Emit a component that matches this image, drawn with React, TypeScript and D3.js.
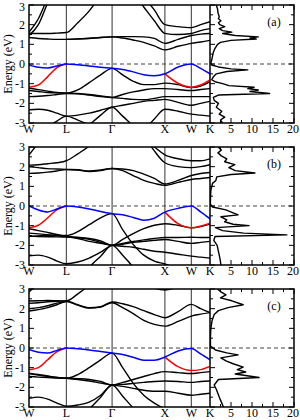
import React from 'react';
import * as d3 from 'd3';

const N = null;

// k-path sampling (2π/a units) and high-symmetry points
const kGrid = [0, 0.177, 0.354, 0.53, 0.707, 0.924, 1.14, 1.357, 1.573, 1.773, 1.973, 2.173, 2.373, 2.573, 2.823, 3.073, 3.25, 3.427];
const kPoints = [0, 0.707, 1.573, 2.573, 3.073, 3.427];
const kLabels = ['W', 'L', 'Γ', 'X', 'W', 'K'];
const energyTicks = [-3, -2, -1, 0, 1, 2, 3];
const dosTicks = [5, 10, 15, 20];
const panelNames = ['(a)', '(b)', '(c)'];

// panel (a)
const blueA = [-0.05, -0.17, -0.2, -0.1, 0, -0.04, -0.1, -0.17, -0.22, -0.28, -0.4, -0.55, -0.6, -0.5, -0.15, 0, -0.22, -0.5];
const redA = [-1.18, -1.07, -0.64, -0.18, 0, N, N, N, N, N, N, N, N, -0.5, -0.98, -1.18, -1.07, -0.81];
const bandsA = [
  [1.35, 1.3, 1.27, 1.25, 1.25, 1.27, 1.3, 1.35, 1.38, 1.32, 1.22, 1.1, 0.92, 0.72, 0.9, 1.05, 1.12, 1.2],
  [N, N, N, N, 1.25, 1.28, 1.31, 1.35, 1.38, 1.39, 1.39, 1.38, 1.3, 1.05, 1.25, 1.45, 1.52, 1.55],
  [1.45, 2.0, 3.1, 4.0, N, N, N, N, N, N, N, N, N, N, N, N, N, N],
  [1.62, 2.3, 3.4, N, N, N, N, N, N, N, N, N, N, N, N, N, N, N],
  [1.56, 1.55, 1.55, 1.57, 1.6, 2.1, 2.7, 3.5, N, N, N, N, N, N, N, N, N, N],
  [N, N, N, N, N, N, N, N, N, N, 4.0, 3.4, 2.75, 2.0, 1.9, 1.85, 2.0, 2.15],
  [N, N, N, N, N, N, N, N, N, 4.2, 3.6, 2.9, 2.2, 1.56, 1.5, 1.55, 1.7, 1.8],
  [-1.23, -1.3, -1.38, -1.45, -1.48, -1.32, -0.95, -0.55, -0.22, -0.55, -0.88, -1.05, -1.05, -0.97, -1.05, -1.2, -1.12, -0.9],
  [-1.35, -1.4, -1.45, -1.47, -1.48, -1.5, -1.55, -1.62, -1.7, -1.55, -1.42, -1.32, -1.25, -1.25, -1.3, -1.35, -1.3, -1.25],
  [-1.66, -1.64, -1.6, -1.55, -1.5, -1.52, -1.58, -1.65, -1.7, -1.75, -1.8, -1.82, -1.75, -1.66, -1.66, -1.66, -1.66, -1.66],
  [-2.33, -2.3, -2.35, -2.5, -2.65, -2.6, -2.5, -2.35, -2.2, -2.1, -2.0, -1.9, -1.85, -1.8, -1.95, -2.1, -2.0, -1.9],
  [N, N, -3.2, -2.9, -2.65, -2.85, -3.1, -3.4, N, N, N, N, N, N, N, N, N, N],
  [N, N, N, N, N, -3.6, -3.1, -2.6, -2.2, -2.65, -3.15, -3.6, N, N, N, N, N, N],
  [N, N, N, N, N, N, N, N, N, N, N, -3.4, -2.8, -2.3, -2.4, -2.55, -2.6, -2.65],
];
const dosA = [
  [3.0, 1.5], [2.8, 1.8], [2.6, 1.9], [2.4, 2.2], [2.3, 2.0], [2.2, 2.6], [2.1, 2.0], [2.0, 2.3], [1.9, 3.5],
  [1.8, 2.2], [1.7, 3.0], [1.62, 5.2], [1.55, 3.0], [1.45, 6.0], [1.38, 11.5], [1.33, 9.5], [1.27, 11.0],
  [1.2, 5.0], [1.1, 2.5], [1.0, 1.8], [0.8, 1.2], [0.6, 0.8], [0.4, 0.6], [0.2, 0.4], [0.05, 0.2],
  [-0.05, 0.4], [-0.15, 2.0], [-0.25, 5.0], [-0.3, 9.0], [-0.38, 4.0], [-0.5, 1.5], [-0.65, 0.8], [-0.8, 0.4],
  [-0.9, 1.2], [-1.0, 3.0], [-1.1, 4.5], [-1.18, 10.5], [-1.25, 9.0], [-1.32, 11.5], [-1.4, 9.5], [-1.5, 14.2],
  [-1.58, 2.0], [-1.7, 0.8], [-1.85, 1.0], [-2.0, 2.0], [-2.2, 1.5], [-2.4, 2.8], [-2.55, 2.2], [-2.7, 3.5],
  [-2.85, 2.5], [-3.0, 3.0],
];

// panel (b)
const blueB = [0, -0.2, -0.3, -0.15, 0, -0.05, -0.15, -0.28, -0.39, -0.45, -0.58, -0.72, -0.62, -0.31, -0.12, 0, -0.3, -0.65];
const redB = [-1.11, -0.98, -0.6, -0.18, 0, N, N, N, N, N, N, N, N, -0.31, -0.9, -1.11, -1.02, -0.87];
const bandsB = [
  [1.66, 1.68, 1.72, 1.78, 1.85, 1.83, 1.75, 1.8, 1.91, 1.8, 1.55, 1.3, 1.15, 1.05, 1.2, 1.35, 1.4, 1.45],
  [2.0, 1.95, 1.9, 1.88, 1.86, 1.84, 1.78, 1.83, 1.91, 1.88, 1.8, 1.62, 1.4, 1.12, 1.3, 1.55, 1.65, 1.7],
  [2.08, 2.1, 2.15, 2.2, 2.3, 2.65, 3.05, 3.6, N, N, N, N, N, N, N, N, N, N],
  [2.6, 3.2, 3.8, N, N, N, N, N, N, N, N, N, N, N, N, N, N, N],
  [N, N, N, N, N, N, N, N, N, N, 4.0, 3.4, 3.0, 2.6, 2.4, 2.3, 2.3, 2.4],
  [N, N, N, N, N, N, N, N, N, N, N, 3.6, 2.8, 2.2, 2.0, 1.95, 2.0, 2.1],
  [-1.38, -1.42, -1.46, -1.5, -1.5, -1.3, -0.95, -0.6, -0.39, -1.2, -1.95, -2.5, -2.8, -2.95, -3.2, N, N, N],
  [-1.16, -1.25, -1.35, -1.45, -1.55, -1.6, -1.7, -1.85, -2.0, -1.7, -1.4, -1.15, -0.98, -0.9, -0.98, -1.11, -1.05, -0.92],
  [-1.54, -1.55, -1.56, -1.57, -1.58, -1.6, -1.65, -1.78, -2.0, -1.9, -1.8, -1.72, -1.65, -1.6, -1.6, -1.59, -1.6, -1.6],
  [-1.54, -1.52, -1.5, -1.5, -1.55, -1.65, -1.8, -1.9, -2.0, -2.05, -2.1, -2.2, -2.3, -2.35, -2.45, -2.55, -2.6, -2.65],
  [-2.53, -2.5, -2.6, -2.8, -2.94, -2.85, -2.65, -2.35, -2.0, -1.95, -1.85, -1.8, -1.75, -1.7, -1.8, -1.9, -1.85, -1.8],
  [N, N, N, N, N, -3.6, -3.1, -2.55, -2.0, -2.5, -3.1, -3.6, N, N, N, N, N, N],
];
const dosB = [
  [3.0, 1.9], [2.85, 2.7], [2.7, 1.9], [2.55, 2.7], [2.4, 4.0], [2.25, 3.5], [2.1, 5.9], [1.95, 4.5], [1.8, 6.0],
  [1.68, 10.7], [1.6, 5.0], [1.48, 1.6], [1.3, 1.4], [1.15, 0.6], [0.8, 0.2], [0.3, 0.1], [0.1, 0.1],
  [-0.05, 0.6], [-0.2, 3.8], [-0.35, 5.5], [-0.45, 6.7], [-0.55, 2.6], [-0.7, 4.0], [-0.8, 3.5], [-0.93, 5.5],
  [-1.0, 9.3], [-1.1, 1.3], [-1.25, 3.0], [-1.38, 8.0], [-1.47, 18.3], [-1.55, 1.2], [-1.75, 0.9], [-2.0, 1.7],
  [-2.4, 2.1], [-2.7, 2.4], [-3.0, 2.6],
];

// panel (c)
const blueC = [-0.08, -0.22, -0.26, -0.12, 0, -0.04, -0.1, -0.18, -0.26, -0.33, -0.47, -0.62, -0.62, -0.46, -0.15, -0.03, -0.3, -0.6];
const redC = [-1.11, -1.0, -0.6, -0.18, 0, N, N, N, N, N, N, N, N, -0.46, -0.95, -1.15, -1.1, -0.94];
const bandsC = [
  [1.88, 1.95, 2.05, 2.2, 2.36, 2.18, 2.03, 2.08, 2.3, 2.05, 1.75, 1.4, 1.2, 1.11, 1.35, 1.62, 1.72, 1.8],
  [2.39, 2.4, 2.42, 2.4, 2.39, 2.2, 2.05, 2.1, 2.34, 2.25, 2.1, 1.9, 1.7, 1.54, 1.85, 2.22, 2.0, 1.8],
  [2.27, 2.3, 2.35, 2.38, 2.39, 2.75, 3.2, 3.7, N, N, N, N, N, N, N, N, N, N],
  [2.0, 2.05, 2.15, 2.28, 2.37, N, N, N, N, N, N, N, N, N, N, N, N, N],
  [2.85, 3.3, N, N, N, N, N, N, N, N, N, N, N, N, N, N, N, N],
  [N, N, N, N, N, N, N, N, N, N, N, 3.3, 3.05, 2.95, 3.1, 3.3, N, N],
  [-1.28, -1.35, -1.42, -1.5, -1.54, -1.35, -1.0, -0.6, -0.26, -1.0, -1.8, -2.4, -2.8, -3.1, N, N, N, N],
  [-1.45, -1.48, -1.5, -1.53, -1.54, -1.56, -1.6, -1.7, -1.88, -1.75, -1.6, -1.45, -1.3, -1.2, -1.25, -1.3, -1.25, -1.2],
  [-1.3, -1.38, -1.45, -1.5, -1.54, -1.6, -1.68, -1.78, -1.88, -1.95, -2.05, -2.15, -2.2, -2.2, -2.3, -2.4, -2.35, -2.3],
  [-2.56, -2.5, -2.6, -2.8, -2.96, -2.9, -2.75, -2.4, -1.88, -1.85, -1.8, -1.75, -1.7, -1.68, -1.7, -1.75, -1.7, -1.68],
  [N, N, N, N, N, -3.6, -3.1, -2.5, -1.88, -2.45, -3.05, -3.6, N, N, N, N, N, N],
];
const dosC = [
  [3.0, 1.8], [2.85, 2.6], [2.7, 3.8], [2.55, 2.5], [2.4, 5.2], [2.2, 7.9], [2.05, 4.3], [1.9, 2.0], [1.7, 1.0],
  [1.4, 0.5], [1.0, 0.2], [0.5, 0.1], [0.1, 0.1], [-0.1, 1.3], [-0.25, 4.0], [-0.35, 6.7], [-0.5, 2.6],
  [-0.65, 3.8], [-0.8, 5.5], [-0.97, 7.9], [-1.1, 6.5], [-1.22, 8.5], [-1.32, 6.0], [-1.5, 11.7], [-1.6, 2.0],
  [-1.88, 1.0], [-2.1, 1.5], [-2.6, 2.4], [-3.0, 3.2],
];

const panels = [
  { blue: blueA, red: redA, bands: bandsA, dos: dosA },
  { blue: blueB, red: redB, bands: bandsB, dos: dosB },
  { blue: blueC, red: redC, bands: bandsC, dos: dosC },
];

const W = 300;
const H = 420;
const left = 29;
const bandRight = 210;
const dosRight = 294;
const panelTops = [5, 147, 289];
const panelH = 118;
const font = 'Liberation Serif, Times New Roman, serif';

function Panel({ idx, data }: { idx: number; data: any }) {
  const top = panelTops[idx];
  const bottom = top + panelH;
  const x = d3.scaleLinear().domain([0, 3.427]).range([left, bandRight]);
  const y = d3.scaleLinear().domain([-3, 3]).range([bottom, top]);
  const xd = d3.scaleLinear().domain([0, 20]).range([bandRight, dosRight]);

  const line = d3.line<number | null>()
    .defined(d => d != null)
    .x((_, i) => x(kGrid[i]))
    .y(d => y(d as number))
    .curve(d3.curveMonotoneX);

  const dosLine = d3.line<number[]>()
    .x(d => xd(d[1]))
    .y(d => y(d[0]));

  const minorE = d3.range(-2.5, 3, 1);
  const dosMinor = [2.5, 7.5, 12.5, 17.5];
  const clipB = `clipBand${idx}`;
  const clipD = `clipDos${idx}`;

  return (
    <g>
      <defs>
        <clipPath id={clipB}>
          <rect x={left} y={top} width={bandRight - left} height={panelH} />
        </clipPath>
        <clipPath id={clipD}>
          <rect x={bandRight} y={top} width={dosRight - bandRight} height={panelH} />
        </clipPath>
      </defs>
      {kPoints.slice(1, -1).map((k, i) => (
        <line key={i} x1={x(k)} x2={x(k)} y1={top} y2={bottom} stroke="#333" strokeWidth={1} />
      ))}
      <line x1={left} x2={dosRight} y1={y(0)} y2={y(0)} stroke="#444" strokeWidth={1} strokeDasharray="4,3" />
      <g clipPath={`url(#${clipB})`} fill="none" strokeLinejoin="round">
        {data.bands.map((b: (number | null)[], i: number) => (
          <path key={i} d={line(b) || ''} stroke="#000" strokeWidth={1.4} />
        ))}
        <path d={line(data.red) || ''} stroke="#ff0000" strokeWidth={1.5} />
        <path d={line(data.blue) || ''} stroke="#0000ff" strokeWidth={1.5} />
      </g>
      <g clipPath={`url(#${clipD})`}>
        <path d={dosLine(data.dos) || ''} fill="none" stroke="#000" strokeWidth={1.4} strokeLinejoin="round" />
      </g>
      {/* energy ticks */}
      {energyTicks.map(e => (
        <g key={e}>
          <line x1={left} x2={left + 5} y1={y(e)} y2={y(e)} stroke="#000" />
          <line x1={bandRight} x2={bandRight + 5} y1={y(e)} y2={y(e)} stroke="#000" />
          <line x1={dosRight - 5} x2={dosRight} y1={y(e)} y2={y(e)} stroke="#000" />
          <text x={left - 4} y={Math.max(y(e) + 4, 11)} textAnchor="end" fontFamily={font} fontSize={12}>{e}</text>
        </g>
      ))}
      {minorE.map(e => (
        <g key={e}>
          <line x1={left} x2={left + 3} y1={y(e)} y2={y(e)} stroke="#000" />
          <line x1={bandRight} x2={bandRight + 3} y1={y(e)} y2={y(e)} stroke="#000" />
          <line x1={dosRight - 3} x2={dosRight} y1={y(e)} y2={y(e)} stroke="#000" />
        </g>
      ))}
      {/* dos ticks */}
      {dosTicks.map(v => (
        <g key={v}>
          <line x1={xd(v)} x2={xd(v)} y1={bottom} y2={bottom - 5} stroke="#000" />
          <line x1={xd(v)} x2={xd(v)} y1={top} y2={top + 5} stroke="#000" />
          <text x={v === 20 ? xd(v) - 1 : xd(v)} y={bottom + 10} textAnchor="middle" fontFamily={font} fontSize={12}>{v}</text>
        </g>
      ))}
      {dosMinor.map(v => (
        <g key={v}>
          <line x1={xd(v)} x2={xd(v)} y1={bottom} y2={bottom - 3} stroke="#000" />
          <line x1={xd(v)} x2={xd(v)} y1={top} y2={top + 3} stroke="#000" />
        </g>
      ))}
      {kPoints.map((k, i) => (
        <text key={i} x={x(k)} y={bottom + 10} textAnchor="middle" fontFamily={font} fontSize={12}>{kLabels[i]}</text>
      ))}
      <rect x={left} y={top} width={dosRight - left} height={panelH} fill="none" stroke="#000" strokeWidth={1.5} />
      <line x1={bandRight} x2={bandRight} y1={top} y2={bottom} stroke="#000" strokeWidth={1.5} />
      <text x={274} y={top + 21} textAnchor="middle" fontFamily={font} fontSize={12}>{panelNames[idx]}</text>
      <text transform={`translate(12,${(top + bottom) / 2}) rotate(-90)`} textAnchor="middle" fontFamily={font} fontSize={12}>Energy (eV)</text>
    </g>
  );
}

export default function App() {
  return (
    <svg width={W} height={H} style={{ position: 'absolute', left: 0, top: 0, background: '#fff' }}>
      {panels.map((p, i) => (
        <Panel key={i} idx={i} data={p} />
      ))}
    </svg>
  );
}
